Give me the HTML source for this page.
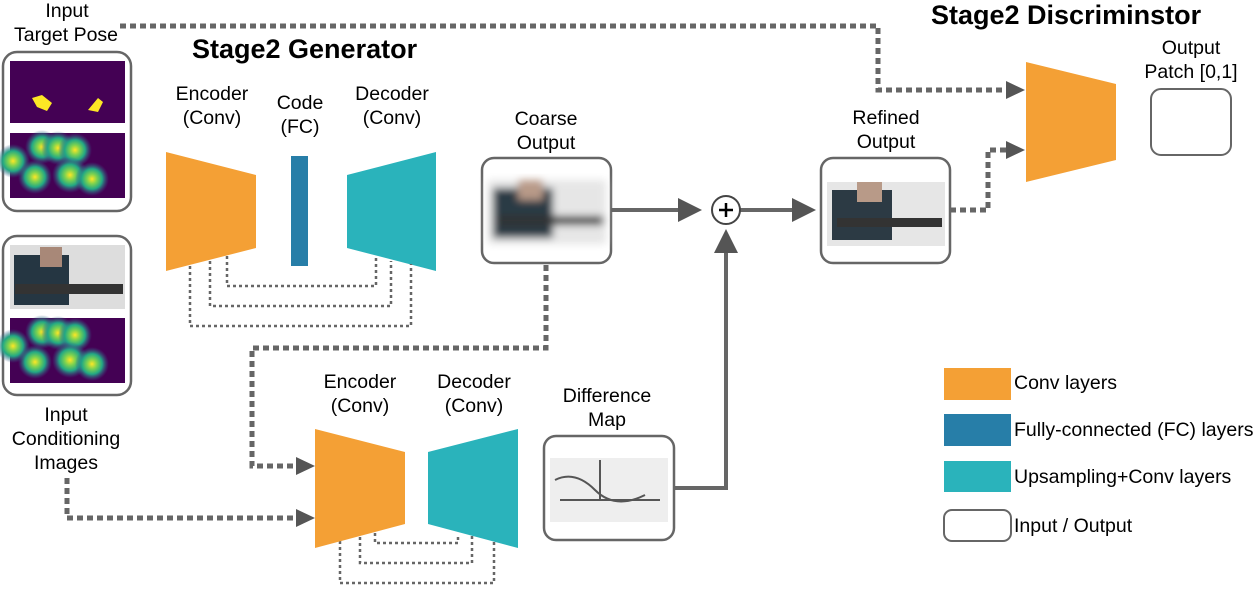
<!DOCTYPE html>
<html><head><style>
body{margin:0;background:#fff;}
svg text{font-family:"Liberation Sans",sans-serif;fill:#000;}
</style></head><body>
<svg width="1259" height="587" viewBox="0 0 1259 587" xmlns="http://www.w3.org/2000/svg">
<defs>
<radialGradient id="blob"><stop offset="0" stop-color="#fde725"/><stop offset="0.3" stop-color="#7ad151"/><stop offset="0.6" stop-color="#22a884"/><stop offset="1" stop-color="#3b528b" stop-opacity="0"/></radialGradient>
<filter id="bl"><feGaussianBlur stdDeviation="4"/></filter>
<marker id="ah" markerWidth="6" markerHeight="6" refX="5" refY="3" orient="auto" markerUnits="strokeWidth"><path d="M0,0 L6,3 L0,6z" fill="#555"/></marker>
<g id="heat"><rect width="115" height="65" fill="#440154"/>
<circle cx="32" cy="14" r="17" fill="url(#blob)"/><circle cx="48" cy="15" r="17" fill="url(#blob)"/><circle cx="65" cy="17" r="17" fill="url(#blob)"/>
<circle cx="3" cy="28" r="17" fill="url(#blob)"/><circle cx="25" cy="44" r="17" fill="url(#blob)"/><circle cx="60" cy="42" r="18" fill="url(#blob)"/><circle cx="82" cy="46" r="17" fill="url(#blob)"/></g>
<g id="ph"><rect width="118" height="64" fill="#e6e6e6"/><rect x="5" y="8" width="60" height="50" fill="#2c3a44"/><rect x="30" y="0" width="25" height="20" fill="#b89a88"/><rect x="10" y="36" width="105" height="9" fill="#333"/></g>
</defs>

<text x="192" y="58" font-size="27" font-weight="bold">Stage2 Generator</text>
<text x="931" y="24" font-size="27" font-weight="bold">Stage2 Discriminstor</text>

<text x="67" y="17" font-size="19.5" text-anchor="middle">Input</text>
<text x="66" y="41" font-size="19.5" text-anchor="middle">Target Pose</text>
<rect x="3" y="52" width="128" height="159" rx="14" fill="#fff" stroke="#666" stroke-width="2.5"/>
<rect x="10" y="61" width="115" height="62" fill="#440154"/>
<path d="M32,98 l10,-3 l10,8 l-5,8 l-10,-4z M88,110 l10,-12 l5,4 l-5,10z" fill="#fde725"/>
<use href="#heat" x="10" y="133"/>
<rect x="3" y="236" width="128" height="159" rx="14" fill="#fff" stroke="#666" stroke-width="2.5"/>
<rect x="10" y="245" width="115" height="64" fill="#ddd"/>
<rect x="14" y="255" width="55" height="50" fill="#253642"/><rect x="40" y="247" width="22" height="20" fill="#a88878"/>
<rect x="15" y="284" width="108" height="10" fill="#333"/>
<use href="#heat" x="10" y="318"/>
<text x="66" y="421" font-size="19.5" text-anchor="middle">Input</text>
<text x="66" y="445" font-size="19.5" text-anchor="middle">Conditioning</text>
<text x="66" y="469" font-size="19.5" text-anchor="middle">Images</text>

<text x="212" y="100" font-size="19.5" text-anchor="middle">Encoder</text>
<text x="212" y="124" font-size="19.5" text-anchor="middle">(Conv)</text>
<text x="300" y="109" font-size="19.5" text-anchor="middle">Code</text>
<text x="300" y="133" font-size="19.5" text-anchor="middle">(FC)</text>
<text x="392" y="100" font-size="19.5" text-anchor="middle">Decoder</text>
<text x="392" y="124" font-size="19.5" text-anchor="middle">(Conv)</text>
<polygon points="166,152 256,175 256,248 166,271" fill="#f4a035"/>
<rect x="291" y="156" width="17" height="110" fill="#277ea8"/>
<polygon points="347,175 436,152 436,271 347,248" fill="#2ab3bb"/>
<g fill="none" stroke="#666" stroke-width="2.5" stroke-dasharray="3 3">
<path d="M227,256 V286 H376 V258"/><path d="M210,261 V306 H391 V261"/><path d="M190,266 V326 H411 V264"/>
<path d="M375,533 V543 H458 V535"/><path d="M360,537 V563 H472 V535"/><path d="M340,541 V583 H494 V540"/>
</g>

<text x="546" y="125" font-size="19.5" text-anchor="middle">Coarse</text>
<text x="546" y="149" font-size="19.5" text-anchor="middle">Output</text>
<rect x="482" y="158" width="129" height="105" rx="12" fill="#fff" stroke="#666" stroke-width="2.5"/>
<g filter="url(#bl)"><use href="#ph" x="488" y="180"/></g>

<text x="886" y="124" font-size="19.5" text-anchor="middle">Refined</text>
<text x="886" y="148" font-size="19.5" text-anchor="middle">Output</text>
<rect x="821" y="158" width="129" height="105" rx="12" fill="#fff" stroke="#666" stroke-width="2.5"/>
<use href="#ph" x="827" y="182"/>

<g stroke="#666" stroke-width="4" fill="none">
<path d="M611,210 H698" marker-end="url(#ah)"/>
<path d="M740,210 H812" marker-end="url(#ah)"/>
<path d="M674,488 H726 V233" marker-end="url(#ah)"/>
</g>
<circle cx="726" cy="210" r="14" fill="#fff" stroke="#444" stroke-width="2"/>
<path d="M719,210 H733 M726,203 V217" stroke="#000" stroke-width="2.5"/>

<text x="360" y="388" font-size="19.5" text-anchor="middle">Encoder</text>
<text x="360" y="412" font-size="19.5" text-anchor="middle">(Conv)</text>
<text x="474" y="388" font-size="19.5" text-anchor="middle">Decoder</text>
<text x="474" y="412" font-size="19.5" text-anchor="middle">(Conv)</text>
<polygon points="315,429 405,452 405,524 315,548" fill="#f4a035"/>
<polygon points="428,452 518,429 518,548 428,524" fill="#2ab3bb"/>
<text x="607" y="402" font-size="19.5" text-anchor="middle">Difference</text>
<text x="607" y="426" font-size="19.5" text-anchor="middle">Map</text>
<rect x="544" y="436" width="130" height="104" rx="12" fill="#fff" stroke="#666" stroke-width="2.5"/>
<rect x="550" y="458" width="118" height="64" fill="#eee"/>
<path d="M555,480 q20,-10 40,10 t50,5 M560,500 h100 M600,460 v40" stroke="#555" stroke-width="2" fill="none"/>

<g fill="none" stroke="#666" stroke-width="5" stroke-dasharray="6 4">
<path d="M120,26 H878 V90 H1006"/>
<path d="M546,265 V348 H252 V466 H296"/>
<path d="M67,478 V518 H296"/>
<path d="M950,210 H988 V150 H1006"/>
</g>
<g fill="#555">
<polygon points="296,457 315,466 296,475"/>
<polygon points="296,509 315,518 296,527"/>
<polygon points="1006,81 1025,90 1006,99"/>
<polygon points="1006,141 1025,150 1006,159"/>
</g>

<polygon points="1026,62 1116,84 1116,160 1026,182" fill="#f4a035"/>
<text x="1191" y="54" font-size="19.5" text-anchor="middle">Output</text>
<text x="1191" y="78" font-size="19.5" text-anchor="middle">Patch [0,1]</text>
<rect x="1151" y="89" width="80" height="66" rx="10" fill="#fff" stroke="#666" stroke-width="2"/>

<rect x="944" y="368" width="67" height="32" fill="#f4a035"/>
<text x="1014" y="389" font-size="19.5">Conv layers</text>
<rect x="944" y="414" width="67" height="32" fill="#277ea8"/>
<text x="1014" y="436" font-size="19.5">Fully-connected (FC) layers</text>
<rect x="944" y="461" width="67" height="31" fill="#2ab3bb"/>
<text x="1014" y="483" font-size="19.5">Upsampling+Conv layers</text>
<rect x="944" y="510" width="67" height="31" rx="8" fill="#fff" stroke="#666" stroke-width="2"/>
<text x="1014" y="532" font-size="19.5">Input / Output</text>
</svg>
</body></html>
